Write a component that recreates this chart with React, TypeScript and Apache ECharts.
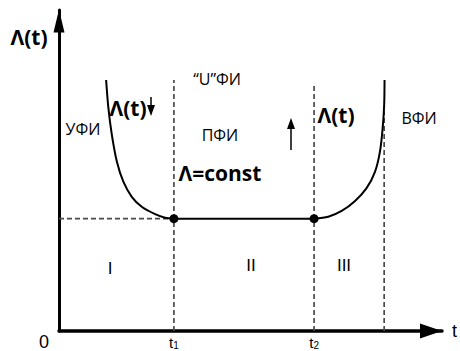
import React, { useEffect, useRef } from "react";
import * as echarts from "echarts";

// Time axis positions (arbitrary units)
const t1 = 3.0;
const t2 = 6.66;
const t3 = 8.49;
const lambdaConst = 3.5;

// Early failures (decreasing)
const earlyT = [1.23, 1.29, 1.38, 1.51, 1.68, 1.9, 2.16, 2.51, 2.77, 3.0];
const earlyL = [7.82, 6.94, 6.11, 5.28, 4.65, 4.18, 3.87, 3.64, 3.53, 3.5];
// Wear-out failures (increasing)
const wearT = [6.66, 7.03, 7.38, 7.73, 8.03, 8.25, 8.38, 8.45, 8.49, 8.5];
const wearL = [3.5, 3.56, 3.74, 4.05, 4.45, 4.96, 5.59, 6.31, 7.04, 7.82];

// Dashed vertical line tops
const vTops = [7.82, 7.7, 6.85];

const xTicks = [t1, t2];
const xTickLabels = ["t{s|1}", "t{s|2}"];

const BOLD = "'Open Sans', 'Noto Sans', sans-serif";
const REG = "'Open Sans', 'Noto Sans', sans-serif";
const ARIAL = "'Liberation Sans', Arial, sans-serif";

export default function App() {
  const ref = useRef<HTMLDivElement>(null);
  useEffect(() => {
    if (!ref.current) return;
    document.body.style.margin = "0";
    const chart = echarts.init(ref.current, undefined, { renderer: "svg" });
    const dash = { color: "#4a4a4a", width: 1.7, type: [5, 3] as any };
    const vx = [t1, t2, t3];
    const txt = (x: number, y: number, text: string, size: number, bold: boolean, family: string) => ({
      type: "text",
      x,
      y,
      style: {
        text,
        fontSize: size,
        fontWeight: bold ? "bold" : "normal",
        fontFamily: family,
        fill: "#000",
        align: "center",
        verticalAlign: "middle",
      },
    });
    chart.setOption({
      animation: false,
      grid: { left: 59, right: 18, top: 10, bottom: 20, outerBoundsMode: "none", containLabel: false },
      xAxis: {
        type: "value",
        min: 0,
        max: 10,
        splitLine: { show: false },
        axisTick: { show: false },
        axisLine: {
          show: true,
          onZero: false,
          symbol: ["none", "triangle"],
          symbolSize: [15, 22],
          symbolOffset: [0, -11],
          lineStyle: { color: "#000", width: 3.5 },
        },
        axisLabel: {
          show: true,
          customValues: xTicks,
          margin: 4,
          formatter: (v: number) => {
            const i = xTicks.indexOf(v);
            return i >= 0 ? xTickLabels[i] : "";
          },
          color: "#000",
          fontFamily: ARIAL,
          fontSize: 15,
          lineHeight: 15,
          rich: { s: { fontSize: 10, fontFamily: ARIAL, padding: [5, 0, 0, 0] } },
        },
        name: "t",
        nameLocation: "end",
        nameGap: 10,
        nameTextStyle: { color: "#000", fontFamily: ARIAL, fontSize: 18, verticalAlign: "middle" },
      },
      yAxis: {
        type: "value",
        min: 0,
        max: 10,
        splitLine: { show: false },
        axisTick: { show: false },
        axisLabel: { show: false },
        axisLine: {
          show: true,
          onZero: false,
          symbol: ["none", "triangle"],
          symbolSize: [11, 23],
          symbolOffset: [0, -11],
          lineStyle: { color: "#000", width: 3 },
        },
      },
      series: [
        ...vx.map((x, i) => ({
          type: "line",
          data: [
            [x, 0],
            [x, vTops[i]],
          ],
          symbol: "none",
          lineStyle: dash,
          z: 1,
        })),
        {
          type: "line",
          data: [
            [0, lambdaConst],
            [t1, lambdaConst],
          ],
          symbol: "none",
          lineStyle: dash,
          z: 1,
        },
        {
          type: "line",
          data: earlyT.map((t, i) => [t, earlyL[i]]),
          smooth: 0.3,
          symbol: "none",
          lineStyle: { color: "#000", width: 2 },
          z: 3,
        },
        {
          type: "line",
          data: wearT.map((t, i) => [t, wearL[i]]),
          smooth: 0.3,
          symbol: "none",
          lineStyle: { color: "#000", width: 2 },
          z: 3,
        },
        {
          type: "line",
          data: [
            [t1, lambdaConst],
            [t2, lambdaConst],
          ],
          symbol: "circle",
          symbolSize: 9,
          showSymbol: true,
          itemStyle: { color: "#000" },
          lineStyle: { color: "#000", width: 2 },
          z: 4,
        },
      ],
      graphic: [
        txt(29, 37, "Λ(t)", 21, true, BOLD),
        txt(217, 79, "“U”ФИ", 16, false, REG),
        txt(128, 108, "Λ(t)", 21, true, BOLD),
        txt(83, 129, "УФИ", 16, false, REG),
        txt(220, 135, "ПФИ", 16, false, REG),
        txt(336, 115, "Λ(t)", 21, true, BOLD),
        txt(419, 118, "ВФИ", 16, false, REG),
        txt(220, 173, "Λ=const", 21, true, BOLD),
        txt(110, 268, "I", 17, false, ARIAL),
        txt(251, 265, "II", 17, false, ARIAL),
        txt(344, 265, "III", 17, false, ARIAL),
        txt(44, 342, "0", 18, false, ARIAL),
        // small down arrow
        { type: "line", shape: { x1: 151, y1: 97, x2: 151, y2: 108 }, style: { stroke: "#000", lineWidth: 1.5 } },
        { type: "polygon", shape: { points: [[147, 105], [155, 105], [151, 116]] }, style: { fill: "#000" } },
        // small up arrow
        { type: "line", shape: { x1: 291, y1: 126, x2: 291, y2: 150 }, style: { stroke: "#000", lineWidth: 1.5 } },
        { type: "polygon", shape: { points: [[287, 129], [295, 129], [291, 118]] }, style: { fill: "#000" } },
      ],
    });
    return () => chart.dispose();
  }, []);
  return <div ref={ref} style={{ width: 460, height: 351 }} />;
}
